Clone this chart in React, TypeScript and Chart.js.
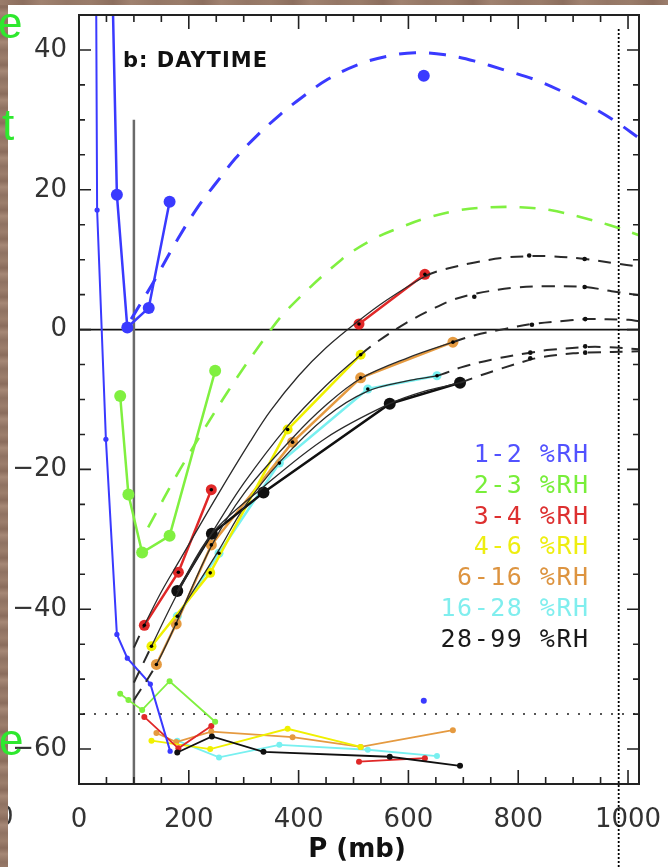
import React, { useEffect, useRef } from "react";
import { Chart, registerables } from "chart.js";

Chart.register(...registerables);

// ---------- axis ticks ----------
const xTickValues = [0, 200, 400, 600, 800, 1000];
const yTickValues = [-60, -40, -20, 0, 20, 40];
const xRange = [0, 1020];
const yRange = [-65, 45];

// ---------- reference lines ----------
const refZeroT = 0;
const refGrayP = 100;
const refGrayTopT = 30;
const refDottedT = -55;
const refDottedP = 983;
const refDottedTopT = 43;

// ---------- 1-2 %RH (blue) ----------
const blueHiP = [49, 69, 88, 127, 165];
const blueHiT = [93, 19.3, 0.3, 3.1, 18.3];
const blueLoP = [30, 33, 49, 69, 88, 130, 166];
const blueLoT = [70, 17.1, -15.7, -43.6, -47, -50.7, -60.3];
const blueIsoHiP = [628];
const blueIsoHiT = [36.3];
const blueIsoLoP = [628];
const blueIsoLoT = [-53.1];
const blueFitP = [95, 135, 181, 217, 250, 285, 321, 367, 404, 453, 508, 561, 612, 667, 721, 776, 829, 879, 928, 975, 1020];
const blueFitT = [1.5, 6.7, 13.1, 17.6, 21.0, 24.5, 27.5, 30.8, 33.1, 35.8, 37.9, 39.1, 39.6, 39.3, 38.4, 37.1, 35.8, 34.1, 32.1, 29.9, 27.4];

// ---------- 2-3 %RH (green) ----------
const greenP = [75, 90, 115, 165, 248];
const greenHiT = [-9.5, -23.6, -31.9, -29.5, -5.9];
const greenLoT = [-52.1, -53, -54.4, -50.3, -56.1];
const greenFitP = [126, 184, 270, 343, 380, 478, 535, 588, 639, 694, 749, 804, 858, 913, 964, 1020];
const greenFitT = [-28.3, -20, -9, -0.7, 2.9, 10, 12.9, 14.7, 16.1, 17.1, 17.5, 17.5, 17.1, 16.1, 15, 13.5];

// ---------- 3-4 %RH (red) ----------
const redP = [119, 181, 241, 375, 510, 630];
const redHiT = [-42.3, -34.7, -22.9, null, 0.8, 7.9];
const redLoT = [-55.4, -59.9, -56.7, null, -61.8, -61.3];

// ---------- 4-6 %RH (yellow) ----------
const yellowP = [132, 239, 380, 513];
const yellowHiT = [-45.3, -34.8, -14.3, -3.6];
const yellowLoT = [-58.8, -60, -57.1, -59.7];

// ---------- 6-16 %RH (orange) ----------
const orangeP = [141, 177, 241, 389, 513, 681];
const orangeHiT = [-47.9, -42.1, -30.8, -16.1, -6.9, -1.8];
const orangeLoT = [-57.7, -59, -57.5, -58.3, -59.7, -57.3];

// ---------- 16-28 %RH (cyan) ----------
const cyanP = [179, 255, 365, 526, 652];
const cyanHiT = [-41, -32, -19.1, -8.5, -6.6];
const cyanLoT = [-58.8, -61.2, -59.4, -60.1, -61];

// ---------- 28-99 %RH (black) ----------
const blackP = [179, 242, 336, 566, 694];
const blackHiT = [-37.4, -29.2, -23.3, -10.6, -7.6];
const blackLoT = [-60.5, -58.2, -60.4, -61.1, -62.4];

// ---------- black fit curves ----------
const fitAP = [100, 119, 150, 184, 250, 312, 349, 400, 450, 510, 560, 630, 660, 721, 776, 822, 858, 922, 975, 1020];
const fitAT = [-45.5, -42.3, -37.5, -32.9, -24, -16, -11.6, -6.6, -2.6, 1.3, 4.2, 7.6, 8.5, 9.6, 10.3, 10.5, 10.5, 10.1, 9.5, 9];
const fitBP = [100, 132, 181, 239, 300, 380, 450, 513, 544, 597, 643, 679, 720, 793, 855, 921, 970, 1020];
const fitBT = [-50.5, -45.3, -37.5, -29.5, -22, -13.8, -8, -3.6, -1.7, 1, 2.9, 4.2, 5.1, 6, 6.2, 6.1, 5.5, 4.9];
const fitCP = [100, 141, 177, 241, 300, 389, 450, 513, 600, 681, 721, 776, 825, 891, 922, 1001, 1020];
const fitCT = [-53, -47.9, -42, -31, -23.5, -15.5, -10.8, -7, -4, -1.8, -0.8, 0.1, 0.8, 1.3, 1.5, 1.4, 1.2];
const fitDP = [179, 255, 300, 365, 450, 526, 600, 652, 696, 751, 822, 858, 922, 960, 1020];
const fitDT = [-41, -31.5, -25.5, -19, -12.5, -8.8, -7.3, -6.6, -5.4, -4.3, -3.3, -2.9, -2.5, -2.5, -2.8];
const fitEP = [179, 242, 336, 450, 566, 630, 694, 722, 760, 822, 845, 900, 922, 1020];
const fitET = [-37.4, -29.2, -22.5, -15.5, -10.6, -8.8, -7.6, -6.8, -5.8, -4.3, -3.9, -3.4, -3.3, -3.1];
const markP = [820, 921, 720, 921, 825, 922, 822, 922, 822, 922];
const markT = [10.6, 10.1, 4.7, 6.1, 0.7, 1.5, -3.3, -2.4, -4.1, -3.3];

// ---------- legend ----------
const legendLabels = ["1-2 %RH", "2-3 %RH", "3-4 %RH", "4-6 %RH", "6-16 %RH", "16-28 %RH", "28-99 %RH"];
const legendColors = ["#5252ff", "#78ee3a", "#dd3030", "#eeee10", "#dd9440", "#80eeee", "#1a1a1a"];

const C_BLUE = "#3a3aff";
const C_GREEN = "#80f040";
const C_RED = "#e02828";
const C_YELLOW = "#f0f000";
const C_ORANGE = "#e59a40";
const C_CYAN = "#78f0f0";
const C_BLACK = "#101010";

const pts = (xs: number[], ys: (number | null)[]) => xs.map((x, i) => ({ x, y: ys[i] }));

const fmt = (v: number) => (v < 0 ? "\u2212" + Math.abs(v) : String(v));

function dataLine(label: string, xs: number[], ys: (number | null)[], color: string, width: number, radius: number, order: number) {
  return {
    label,
    data: pts(xs, ys),
    borderColor: color,
    backgroundColor: color,
    borderWidth: width,
    pointRadius: radius,
    pointBorderWidth: 0,
    pointBackgroundColor: color,
    spanGaps: false,
    tension: 0,
    order,
  };
}

function fitLine(label: string, xs: number[], ys: number[], lo: number, hi: number) {
  const outside = (ctx: any) => ctx.p0.parsed.x < lo - 0.01 || ctx.p1.parsed.x > hi + 0.01;
  return {
    label,
    data: pts(xs, ys),
    borderColor: "#2a2a2a",
    borderWidth: 1.3,
    pointRadius: 0,
    tension: 0.35,
    order: 3,
    segment: {
      borderDash: (ctx: any) => (outside(ctx) ? [13, 9] : []),
      borderWidth: (ctx: any) => (outside(ctx) ? 2 : 1.3),
    },
  };
}

const decorPlugin = {
  id: "decor",
  beforeDatasetsDraw(chart: any) {
    const { ctx, chartArea: a, scales } = chart;
    const xs = scales.x;
    const ys = scales.y;
    ctx.save();
    ctx.beginPath();
    ctx.rect(a.left, a.top, a.right - a.left, a.bottom - a.top);
    ctx.clip();
    const y0 = ys.getPixelForValue(refZeroT);
    ctx.strokeStyle = "#111";
    ctx.lineWidth = 1.6;
    ctx.beginPath();
    ctx.moveTo(a.left, y0);
    ctx.lineTo(a.right, y0);
    ctx.stroke();
    const yd = ys.getPixelForValue(refDottedT);
    ctx.strokeStyle = "#555";
    ctx.lineWidth = 2;
    ctx.setLineDash([2, 9]);
    ctx.beginPath();
    ctx.moveTo(a.left + 4, yd);
    ctx.lineTo(a.right, yd);
    ctx.stroke();
    ctx.setLineDash([]);
    const xg = xs.getPixelForValue(refGrayP);
    ctx.strokeStyle = "#6a6a6a";
    ctx.lineWidth = 2.5;
    ctx.beginPath();
    ctx.moveTo(xg, ys.getPixelForValue(refGrayTopT));
    ctx.lineTo(xg, a.bottom);
    ctx.stroke();
    ctx.restore();
  },
  afterDraw(chart: any) {
    const { ctx, chartArea: a, scales } = chart;
    const xs = scales.x;
    const ys = scales.y;
    ctx.save();
    ctx.strokeStyle = "#222";
    ctx.lineWidth = 1.6;
    for (let v = xRange[0]; v <= xRange[1]; v += 50) {
      const px = xs.getPixelForValue(v);
      const len = v % 200 === 0 ? 14 : 7;
      ctx.beginPath();
      ctx.moveTo(px, a.bottom);
      ctx.lineTo(px, a.bottom - len);
      ctx.moveTo(px, a.top);
      ctx.lineTo(px, a.top + len);
      ctx.stroke();
    }
    for (let v = -65; v <= yRange[1]; v += 5) {
      const py = ys.getPixelForValue(v);
      const len = v % 20 === 0 ? 12 : 6;
      ctx.beginPath();
      ctx.moveTo(a.left, py);
      ctx.lineTo(a.left + len, py);
      ctx.moveTo(a.right, py);
      ctx.lineTo(a.right - len, py);
      ctx.stroke();
    }
    ctx.lineWidth = 2;
    ctx.strokeRect(a.left, a.top, a.right - a.left, a.bottom - a.top);
    const xd = xs.getPixelForValue(refDottedP);
    ctx.strokeStyle = "#000";
    ctx.lineWidth = 1.8;
    ctx.setLineDash([2, 2]);
    ctx.beginPath();
    ctx.moveTo(xd, ys.getPixelForValue(refDottedTopT));
    ctx.lineTo(xd, chart.height);
    ctx.stroke();
    ctx.restore();
  },
};

export default function App() {
  const ref = useRef<HTMLCanvasElement | null>(null);

  useEffect(() => {
    if (!ref.current) return;
    const centres = [
      ...pts(redP, redHiT),
      ...pts(yellowP, yellowHiT),
      ...pts(orangeP, orangeHiT),
      ...pts(cyanP, cyanHiT),
    ].filter((p) => p.y !== null);

    const datasets: any[] = [
      {
        label: "centres",
        data: centres,
        showLine: false,
        pointRadius: 1.8,
        pointBorderWidth: 0,
        pointBackgroundColor: "#000",
        order: 0,
      },
      {
        label: "fit markers",
        data: pts(markP, markT),
        showLine: false,
        pointRadius: 2.3,
        pointBorderWidth: 0,
        pointBackgroundColor: "#111",
        order: 0,
      },
      fitLine("fit 3-4", fitAP, fitAT, 119, 630),
      fitLine("fit 4-6", fitBP, fitBT, 132, 513),
      fitLine("fit 6-16", fitCP, fitCT, 141, 681),
      fitLine("fit 16-28", fitDP, fitDT, 179, 652),
      fitLine("fit 28-99", fitEP, fitET, 179, 694),
      {
        label: "fit 1-2",
        data: pts(blueFitP, blueFitT),
        borderColor: C_BLUE,
        borderWidth: 3,
        borderDash: [17, 13],
        pointRadius: 0,
        tension: 0.35,
        order: 10,
      },
      {
        label: "fit 2-3",
        data: pts(greenFitP, greenFitT),
        borderColor: C_GREEN,
        borderWidth: 2.6,
        borderDash: [16, 13],
        pointRadius: 0,
        tension: 0.35,
        order: 10,
      },
      dataLine("1-2 hi", blueHiP, blueHiT, C_BLUE, 2.5, 6, 5),
      dataLine("1-2 lo", blueLoP, blueLoT, C_BLUE, 2, 2.6, 5),
      { ...dataLine("1-2 iso hi", blueIsoHiP, blueIsoHiT, C_BLUE, 0, 6, 5), showLine: false },
      { ...dataLine("1-2 iso lo", blueIsoLoP, blueIsoLoT, C_BLUE, 0, 3, 5), showLine: false },
      dataLine("2-3 hi", greenP, greenHiT, C_GREEN, 2.5, 6, 5),
      dataLine("2-3 lo", greenP, greenLoT, C_GREEN, 1.8, 3, 5),
      dataLine("3-4 hi", redP, redHiT, C_RED, 2.5, 5.5, 5),
      dataLine("3-4 lo", redP, redLoT, C_RED, 1.8, 3, 5),
      dataLine("4-6 hi", yellowP, yellowHiT, C_YELLOW, 2.5, 5, 5),
      dataLine("4-6 lo", yellowP, yellowLoT, C_YELLOW, 1.8, 3, 5),
      dataLine("6-16 hi", orangeP, orangeHiT, C_ORANGE, 2.5, 5.5, 5),
      dataLine("6-16 lo", orangeP, orangeLoT, C_ORANGE, 1.8, 3, 5),
      dataLine("16-28 hi", cyanP, cyanHiT, C_CYAN, 2.5, 4.5, 5),
      dataLine("16-28 lo", cyanP, cyanLoT, C_CYAN, 1.8, 3, 5),
      dataLine("28-99 hi", blackP, blackHiT, C_BLACK, 2.5, 6, 4),
      dataLine("28-99 lo", blackP, blackLoT, C_BLACK, 1.8, 3, 4),
    ];

    const chart = new Chart(ref.current, {
      type: "line",
      data: { datasets },
      options: {
        responsive: false,
        animation: false,
        devicePixelRatio: 1,
        events: [],
        layout: { padding: { left: 0, top: 15, right: 29, bottom: 0 } },
        plugins: { legend: { display: false }, tooltip: { enabled: false } },
        scales: {
          x: {
            type: "linear",
            min: xRange[0],
            max: xRange[1],
            grid: { display: false, drawTicks: false },
            border: { display: false },
            afterBuildTicks: (s: any) => {
              s.ticks = xTickValues.map((v) => ({ value: v }));
            },
            afterFit: (s: any) => {
              s.height = 83;
              s.paddingLeft = 0;
              s.paddingRight = 0;
              s.paddingTop = 0;
              s.paddingBottom = 0;
            },
            ticks: {
              padding: 21,
              maxRotation: 0,
              autoSkip: false,
              color: "#333",
              font: { family: "DejaVu Sans", size: 26 },
              callback: (v: any) => fmt(Number(v)),
            },
          },
          y: {
            type: "linear",
            min: yRange[0],
            max: yRange[1],
            grid: { display: false, drawTicks: false },
            border: { display: false },
            afterBuildTicks: (s: any) => {
              s.ticks = yTickValues.map((v) => ({ value: v }));
            },
            afterFit: (s: any) => {
              s.width = 79;
              s.paddingLeft = 0;
              s.paddingRight = 0;
              s.paddingTop = 0;
              s.paddingBottom = 0;
            },
            ticks: {
              padding: 12,
              autoSkip: false,
              color: "#333",
              font: { family: "DejaVu Sans", size: 26 },
              callback: (v: any) => fmt(Number(v)),
            },
          },
        },
      },
      plugins: [decorPlugin],
    } as any);
    return () => chart.destroy();
  }, []);

  const legendTop = 453;
  const legendStep = 30.8;

  return (
    <div
      style={{
        position: "absolute",
        left: 0,
        top: 0,
        width: 668,
        height: 867,
        background: "#ffffff",
        overflow: "hidden",
      }}
    >
      <canvas ref={ref} width={668} height={867} style={{ position: "absolute", left: 0, top: 0 }} />
      <div
        style={{
          position: "absolute",
          left: -3,
          top: 803,
          fontFamily: "DejaVu Sans",
          fontSize: 26,
          lineHeight: "26px",
          color: "#333",
        }}
      >
        0
      </div>
      <div
        style={{
          position: "absolute",
          left: 0,
          top: 0,
          width: 8,
          height: 867,
          background:
            "repeating-linear-gradient(180deg, #9c7e6c 0px, #8a6c5c 7px, #a68876 13px, #8f7262 21px, #9c7e6c 29px)",
        }}
      />
      <div
        style={{
          position: "absolute",
          left: 0,
          top: 0,
          width: 668,
          height: 5,
          background:
            "repeating-linear-gradient(90deg, #9a7c6a 0px, #8c6e5e 23px, #a08270 41px, #957766 67px, #9a7c6a 90px)",
        }}
      />
      {[
        { t: "e", left: -2, top: 1 },
        { t: "t", left: 2, top: 103 },
        { t: "e", left: -1, top: 718 },
      ].map((g, i) => (
        <div
          key={i}
          style={{
            position: "absolute",
            left: g.left,
            top: g.top,
            fontFamily: "Liberation Sans",
            fontSize: 44,
            lineHeight: "44px",
            color: "#2ee82e",
          }}
        >
          {g.t}
        </div>
      ))}
      <div
        style={{
          position: "absolute",
          left: 123,
          top: 50,
          fontFamily: "DejaVu Sans",
          fontWeight: "bold",
          fontSize: 21,
          lineHeight: "21px",
          letterSpacing: 1,
          color: "#111",
          whiteSpace: "nowrap",
        }}
      >
        b: DAYTIME
      </div>
      {legendLabels.map((lab, i) => (
        <div
          key={lab}
          style={{
            position: "absolute",
            right: 668 - 588 - 1.5,
            top: legendTop + i * legendStep - 12,
            fontFamily: "DejaVu Sans Mono",
            fontSize: 25,
            lineHeight: "25px",
            letterSpacing: 1.5,
            color: legendColors[i],
            whiteSpace: "nowrap",
            textAlign: "right",
          }}
        >
          {lab}
        </div>
      ))}
      <div
        style={{
          position: "absolute",
          left: 257,
          width: 200,
          top: 835,
          textAlign: "center",
          fontFamily: "DejaVu Sans",
          fontWeight: "bold",
          fontSize: 26,
          lineHeight: "26px",
          color: "#111",
          whiteSpace: "nowrap",
        }}
      >
        P (mb)
      </div>
    </div>
  );
}
